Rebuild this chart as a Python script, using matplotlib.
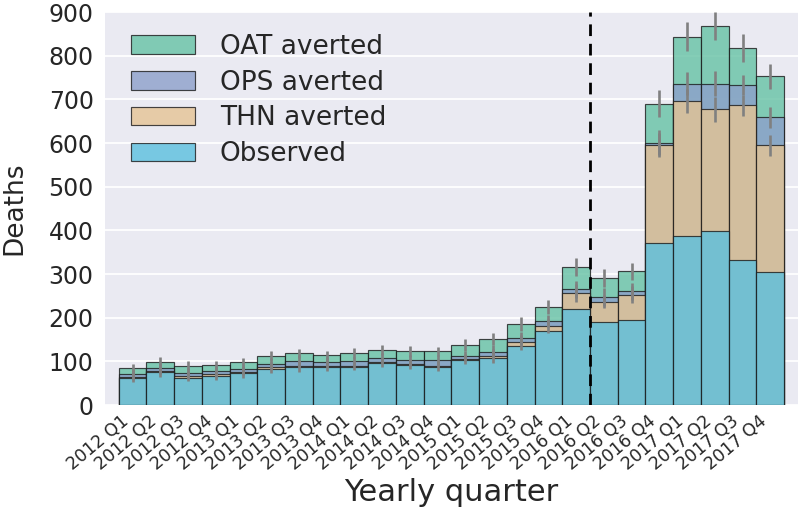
import numpy as np
import matplotlib
matplotlib.use("Agg")
import matplotlib.pyplot as plt

quarters = ["2012 Q1", "2012 Q2", "2012 Q3", "2012 Q4",
            "2013 Q1", "2013 Q2", "2013 Q3", "2013 Q4",
            "2014 Q1", "2014 Q2", "2014 Q3", "2014 Q4",
            "2015 Q1", "2015 Q2", "2015 Q3", "2015 Q4",
            "2016 Q1", "2016 Q2", "2016 Q3", "2016 Q4",
            "2017 Q1", "2017 Q2", "2017 Q3", "2017 Q4"]

observed = [61, 75, 63, 67, 73, 83, 87, 88, 88, 96, 92, 86,
            102, 108, 135, 169, 221, 190, 194, 372, 387, 398, 333, 305]
thn_averted = [4, 2, 3, 3, 2, 3, 3, 2, 2, 2, 2, 3,
               3, 4, 9, 12, 35, 47, 59, 223, 309, 279, 353, 290]
ops_averted = [5, 7, 7, 7, 7, 9, 10, 9, 10, 9, 8, 13,
               7, 10, 9, 11, 9, 10, 7, 6, 40, 59, 47, 64]
oat_averted = [14, 14, 17, 15, 17, 18, 18, 15, 19, 19, 21, 21,
               26, 30, 33, 33, 51, 44, 46, 89, 108, 132, 85, 94]

thn_err = [12, 12, 12, 13, 14, 13, 14, 12, 9, 10, 12, 12,
           12, 16, 17, 17, 21, 15, 19, 28, 27, 29, 24, 24]
ops_err = [12, 12, 12, 13, 13, 13, 14, 12, 10, 11, 12, 12,
           12, 15, 15, 14, 20, 21, 20, 28, 27, 28, 23, 24]
oat_err = [10, 12, 10, 9, 8, 10, 10, 10, 12, 12, 13, 11,
           14, 14, 16, 16, 20, 21, 19, 31, 33, 33, 32, 29]

series_labels = ["OAT averted", "OPS averted", "THN averted", "Observed"]
colors = ["#66c2a5", "#8da0cb", "#e5c494", "#5bc0de"]
policy_change_after = "2016 Q1"

plt.rcParams['font.family'] = ['DejaVu Sans']

fig = plt.figure(figsize=(8, 5.13), dpi=100)
ax = fig.add_axes([0.131, 0.2105, 0.8665, 0.766])
ax.set_facecolor("#EAEAF2")
for s in ax.spines.values():
    s.set_visible(False)

x = np.arange(len(quarters))
obs = np.array(observed, dtype=float)
lvl_thn = obs + np.array(thn_averted)
lvl_ops = lvl_thn + np.array(ops_averted)
lvl_oat = lvl_ops + np.array(oat_averted)

heights = [lvl_oat, lvl_ops, lvl_thn, obs]
for h, c, lab in zip(heights, colors, series_labels):
    ax.bar(x, h, width=1.0, color=c, alpha=0.8, edgecolor="#1a1a1a",
           linewidth=0.85, label=lab, zorder=2)

for lvl, err in [(lvl_thn, thn_err), (lvl_ops, ops_err), (lvl_oat, oat_err)]:
    ax.errorbar(x, lvl, yerr=err, fmt="none", ecolor="grey",
                elinewidth=1.9, capsize=0, zorder=3)

xd = quarters.index(policy_change_after) + 0.5
ax.axvline(xd, color="black", linewidth=2.0, linestyle=(0, (4.2, 2.8)), zorder=4)

ax.set_xlim(-1, 24)
ax.set_ylim(0, 900)
ax.set_yticks(np.arange(0, 901, 100))
ax.yaxis.grid(True, color="white", linewidth=1.3, zorder=0)
ax.xaxis.grid(False)
ax.set_axisbelow(True)

ax.set_xticks(x)
ax.set_xticklabels(quarters, rotation=40, ha="right", fontsize=12.5, color="#262626")
ax.tick_params(axis="both", length=0)
ax.tick_params(axis="y", labelsize=17, labelcolor="#262626", pad=8)
ax.tick_params(axis="x", pad=5)

ax.set_ylabel("Deaths", fontsize=19, color="#262626")
ax.yaxis.set_label_coords(-0.112, 0.5)
ax.set_xlabel("Yearly quarter", fontsize=22, color="#262626", labelpad=3)

leg = ax.legend(loc="upper left", bbox_to_anchor=(0.004, 1.005), frameon=False,
                fontsize=19, handlelength=2.4, handleheight=0.7,
                handletextpad=0.95, labelspacing=0.37)
for t in leg.get_texts():
    t.set_color("#262626")

fig.savefig("out.png", dpi=100)
